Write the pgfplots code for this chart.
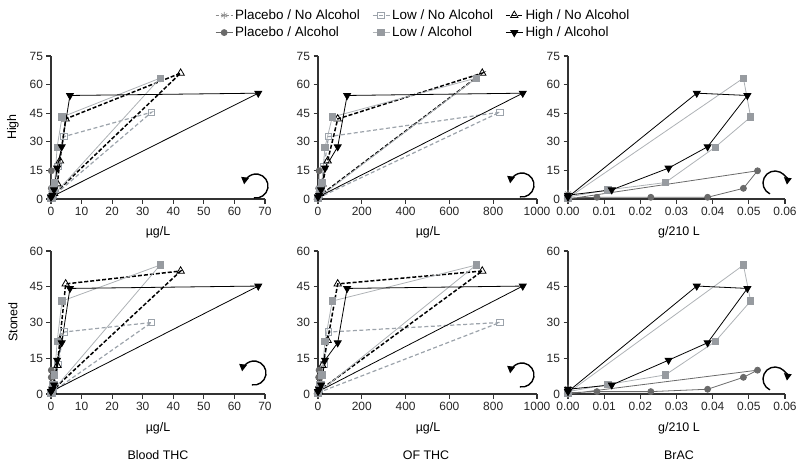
\documentclass[border=0pt]{standalone}
\usepackage{fontspec}
\setmainfont{Liberation Sans}
\usepackage{pgfplots}
\pgfplotsset{compat=1.18}
\usepackage{pgfplotstable}
\usetikzlibrary{arrows.meta}

\definecolor{axc}{HTML}{333333}
\definecolor{pna}{HTML}{8C8C8C}
\definecolor{pa}{HTML}{6A6A6A}
\definecolor{lna}{HTML}{9CA3AB}
\definecolor{la}{HTML}{AEB2B6}
\definecolor{laf}{HTML}{979BA0}

\newcommand{\legfont}{\fontsize{13.5}{15}\selectfont}

% columns: blood THC (ug/L), OF THC (ug/L), BrAC (g/210L), High, Stoned
\pgfplotstableread{
blood of brac high stoned
0   0 0 0   0
0.2 3 0 3   2.5
0.2 2 0 2   1.5
0.1 1 0 1   1
0   1 0 1   0.5
0   0 0 0.5 0.5
0   0 0 0   0
}\PNA
\pgfplotstableread{
blood of brac high stoned
0   0 0      0   0
0.1 5 0.0524 14.8 10
0.1 3 0.0485 5.6 7
0.1 2 0.0386 0.9 2
0   1 0.0229 0.9 1
0   1 0.0080 0.9 1
0   0 0      0.5 0.5
}\PA
\pgfplotstableread{
blood of brac high stoned
0    0   0 0.5  0.5
32.9 830 0 45.5 30
4.2  48  0 32.7 26
2.3  28  0 17   12.4
1.2  14  0 5    4
0.6  6   0 2    2
0.3  2   0 0.5  0.5
}\LNA
\pgfplotstableread{
blood of brac high stoned
0    0   0      0.5  0.5
35.7 722 0.0485 63.4 54.1
3.6  65  0.0505 43   39
2.0  32  0.0407 27.2 22
1.2  17  0.0269 8.6  8
0.6  8   0.0110 4.8  4
0.3  3   0      1    1
}\LA
\pgfplotstableread{
blood of brac high stoned
0    0   0 1  1
42.4 750 0 66 51.6
4.8  90  0 42 46.2
2.9  44  0 20 22.5
2.1  20  0 8  12
1.0  8   0 3  4
0.5  3   0 1  1
}\HNA
\pgfplotstableread{
blood of brac high stoned
0    0   0      1    1
67.8 935 0.0356 55.5 45.3
6.2  133 0.0496 54.3 44.3
3.5  90  0.0386 27.4 21.5
2.0  32  0.0278 16.2 14.2
1.0  14  0.0121 4.8  3.8
0.5  5   0      2    2
}\HA

\pgfplotsset{
  prism/.style={
    scale only axis, height=143bp,
    axis lines=left,
    axis line style={-, line width=1.4bp, color=axc},
    tick align=outside, major tick length=4.5bp,
    tick style={line width=1.1bp, color=axc},
    xmin=0, ymin=0, clip=false,
    ticklabel style={font=\fontsize{12}{14}\selectfont, color=black!85},
    /pgf/number format/assume math mode=true,
    /pgf/number format/1000 sep={},
    scaled x ticks=false, scaled y ticks=false,
  },
  sPNA/.style={color=pna, line width=0.7bp, densely dashed, mark=asterisk, mark size=3.5bp, mark options={solid}},
  sPA/.style={color=pa, line width=0.8bp, mark=*, mark size=3bp, mark options={solid, fill=pa}},
  sLNA/.style={color=lna, line width=1.2bp, dash pattern=on 4bp off 2.5bp, mark=square, mark size=3.2bp, mark options={solid, fill=white, line width=0.9bp}},
  sLA/.style={color=la, line width=0.8bp, mark=square*, mark size=3.2bp, mark options={solid, fill=laf, draw=laf}},
  sHNA/.style={color=black, line width=1.5bp, dash pattern=on 4bp off 2bp, mark=triangle, mark size=4.3bp, mark options={solid, fill=white, line width=0.8bp}},
  sHA/.style={color=black, line width=0.8bp, mark=triangle*, mark size=4bp, mark options={solid, rotate=180, fill=black}},
}

\begin{document}
\begin{tikzpicture}
\path[use as bounding box] (0,0) rectangle (796bp,-466bp);

% ---------- top row: High ----------
\begin{axis}[prism, width=214bp, at={(51bp,-199bp)}, anchor=south west,
  xmax=70, ymax=75, xtick={0,10,...,70}, ytick={0,15,...,75},
  legend columns=3,
  legend style={at={(axis description cs:1.74,1.224)}, anchor=center, draw=none, fill=none,
    /tikz/every even column/.append style={column sep=10bp},
    row sep=2bp},
  legend cell align=left]
\addplot[sPNA] table[x=blood,y=high]{\PNA}; \addlegendentry{\legfont Placebo / No Alcohol}
\addplot[sLNA] table[x=blood,y=high]{\LNA}; \addlegendentry{\legfont Low / No Alcohol}
\addplot[sHNA] table[x=blood,y=high]{\HNA}; \addlegendentry{\legfont High / No Alcohol}
\addplot[sPA] table[x=blood,y=high]{\PA};   \addlegendentry{\legfont Placebo / Alcohol}
\addplot[sLA] table[x=blood,y=high]{\LA};   \addlegendentry{\legfont Low / Alcohol}
\addplot[sHA] table[x=blood,y=high]{\HA};   \addlegendentry{\legfont High / Alcohol}
\end{axis}

\begin{axis}[prism, width=219bp, at={(318bp,-199bp)}, anchor=south west,
  xmax=1000, ymax=75, xtick={0,200,...,1000}, ytick={0,15,...,75}]
\addplot[sPNA] table[x=of,y=high]{\PNA};
\addplot[sLNA] table[x=of,y=high]{\LNA};
\addplot[sHNA] table[x=of,y=high]{\HNA};
\addplot[sPA] table[x=of,y=high]{\PA};
\addplot[sLA] table[x=of,y=high]{\LA};
\addplot[sHA] table[x=of,y=high]{\HA};
\end{axis}

\begin{axis}[prism, width=217bp, at={(568bp,-199bp)}, anchor=south west,
  xmax=0.06, ymax=75, xtick={0,0.01,0.02,0.03,0.04,0.05,0.06}, ytick={0,15,...,75},
  xticklabel style={/pgf/number format/fixed, /pgf/number format/fixed zerofill, /pgf/number format/precision=2}]
\addplot[sPNA] table[x=brac,y=high]{\PNA};
\addplot[sPA] table[x=brac,y=high]{\PA};
\addplot[sLA] table[x=brac,y=high]{\LA};
\addplot[sHA] table[x=brac,y=high]{\HA};
\end{axis}

% ---------- bottom row: Stoned ----------
\begin{axis}[prism, width=214bp, at={(51bp,-394bp)}, anchor=south west,
  xmax=70, ymax=60, xtick={0,10,...,70}, ytick={0,15,...,60}]
\addplot[sPNA] table[x=blood,y=stoned]{\PNA};
\addplot[sLNA] table[x=blood,y=stoned]{\LNA};
\addplot[sHNA] table[x=blood,y=stoned]{\HNA};
\addplot[sPA] table[x=blood,y=stoned]{\PA};
\addplot[sLA] table[x=blood,y=stoned]{\LA};
\addplot[sHA] table[x=blood,y=stoned]{\HA};
\end{axis}

\begin{axis}[prism, width=219bp, at={(318bp,-394bp)}, anchor=south west,
  xmax=1000, ymax=60, xtick={0,200,...,1000}, ytick={0,15,...,60}]
\addplot[sPNA] table[x=of,y=stoned]{\PNA};
\addplot[sLNA] table[x=of,y=stoned]{\LNA};
\addplot[sHNA] table[x=of,y=stoned]{\HNA};
\addplot[sPA] table[x=of,y=stoned]{\PA};
\addplot[sLA] table[x=of,y=stoned]{\LA};
\addplot[sHA] table[x=of,y=stoned]{\HA};
\end{axis}

\begin{axis}[prism, width=217bp, at={(568bp,-394bp)}, anchor=south west,
  xmax=0.06, ymax=60, xtick={0,0.01,0.02,0.03,0.04,0.05,0.06}, ytick={0,15,...,60},
  xticklabel style={/pgf/number format/fixed, /pgf/number format/fixed zerofill, /pgf/number format/precision=2}]
\addplot[sPNA] table[x=brac,y=stoned]{\PNA};
\addplot[sPA] table[x=brac,y=stoned]{\PA};
\addplot[sLA] table[x=brac,y=stoned]{\LA};
\addplot[sHA] table[x=brac,y=stoned]{\HA};
\end{axis}

% ---------- labels ----------
\begin{scope}[font=\fontsize{12.5}{14}\selectfont]
\node[rotate=90] at (13bp,-127bp) {High};
\node[rotate=90] at (13bp,-322bp) {Stoned};
\node at (158bp,-232bp) {µg/L};
\node at (428bp,-232bp) {µg/L};
\node at (679bp,-232bp) {g/210 L};
\node at (158bp,-428bp) {µg/L};
\node at (428bp,-428bp) {µg/L};
\node at (679bp,-428bp) {g/210 L};
\node at (158bp,-455bp) {Blood THC};
\node at (426bp,-455bp) {OF THC};
\node at (679bp,-455bp) {BrAC};
\end{scope}

% ---------- rotation arrows ----------
\begin{scope}[line width=1.4bp, -{Triangle[length=7bp,width=7.5bp]}]
\draw (256bp,-186bp) ++(-100:12bp) arc[start angle=-100, end angle=172, radius=12bp];
\draw (522bp,-185bp) ++(-100:12bp) arc[start angle=-100, end angle=172, radius=12bp];
\draw (775bp,-183bp) ++(245:12bp) arc[start angle=245, end angle=-8, radius=12bp];
\draw (254bp,-373bp) ++(-100:12bp) arc[start angle=-100, end angle=172, radius=12bp];
\draw (522bp,-375bp) ++(-100:12bp) arc[start angle=-100, end angle=172, radius=12bp];
\draw (775bp,-379bp) ++(245:12bp) arc[start angle=245, end angle=-8, radius=12bp];
\end{scope}
\end{tikzpicture}
\end{document}
